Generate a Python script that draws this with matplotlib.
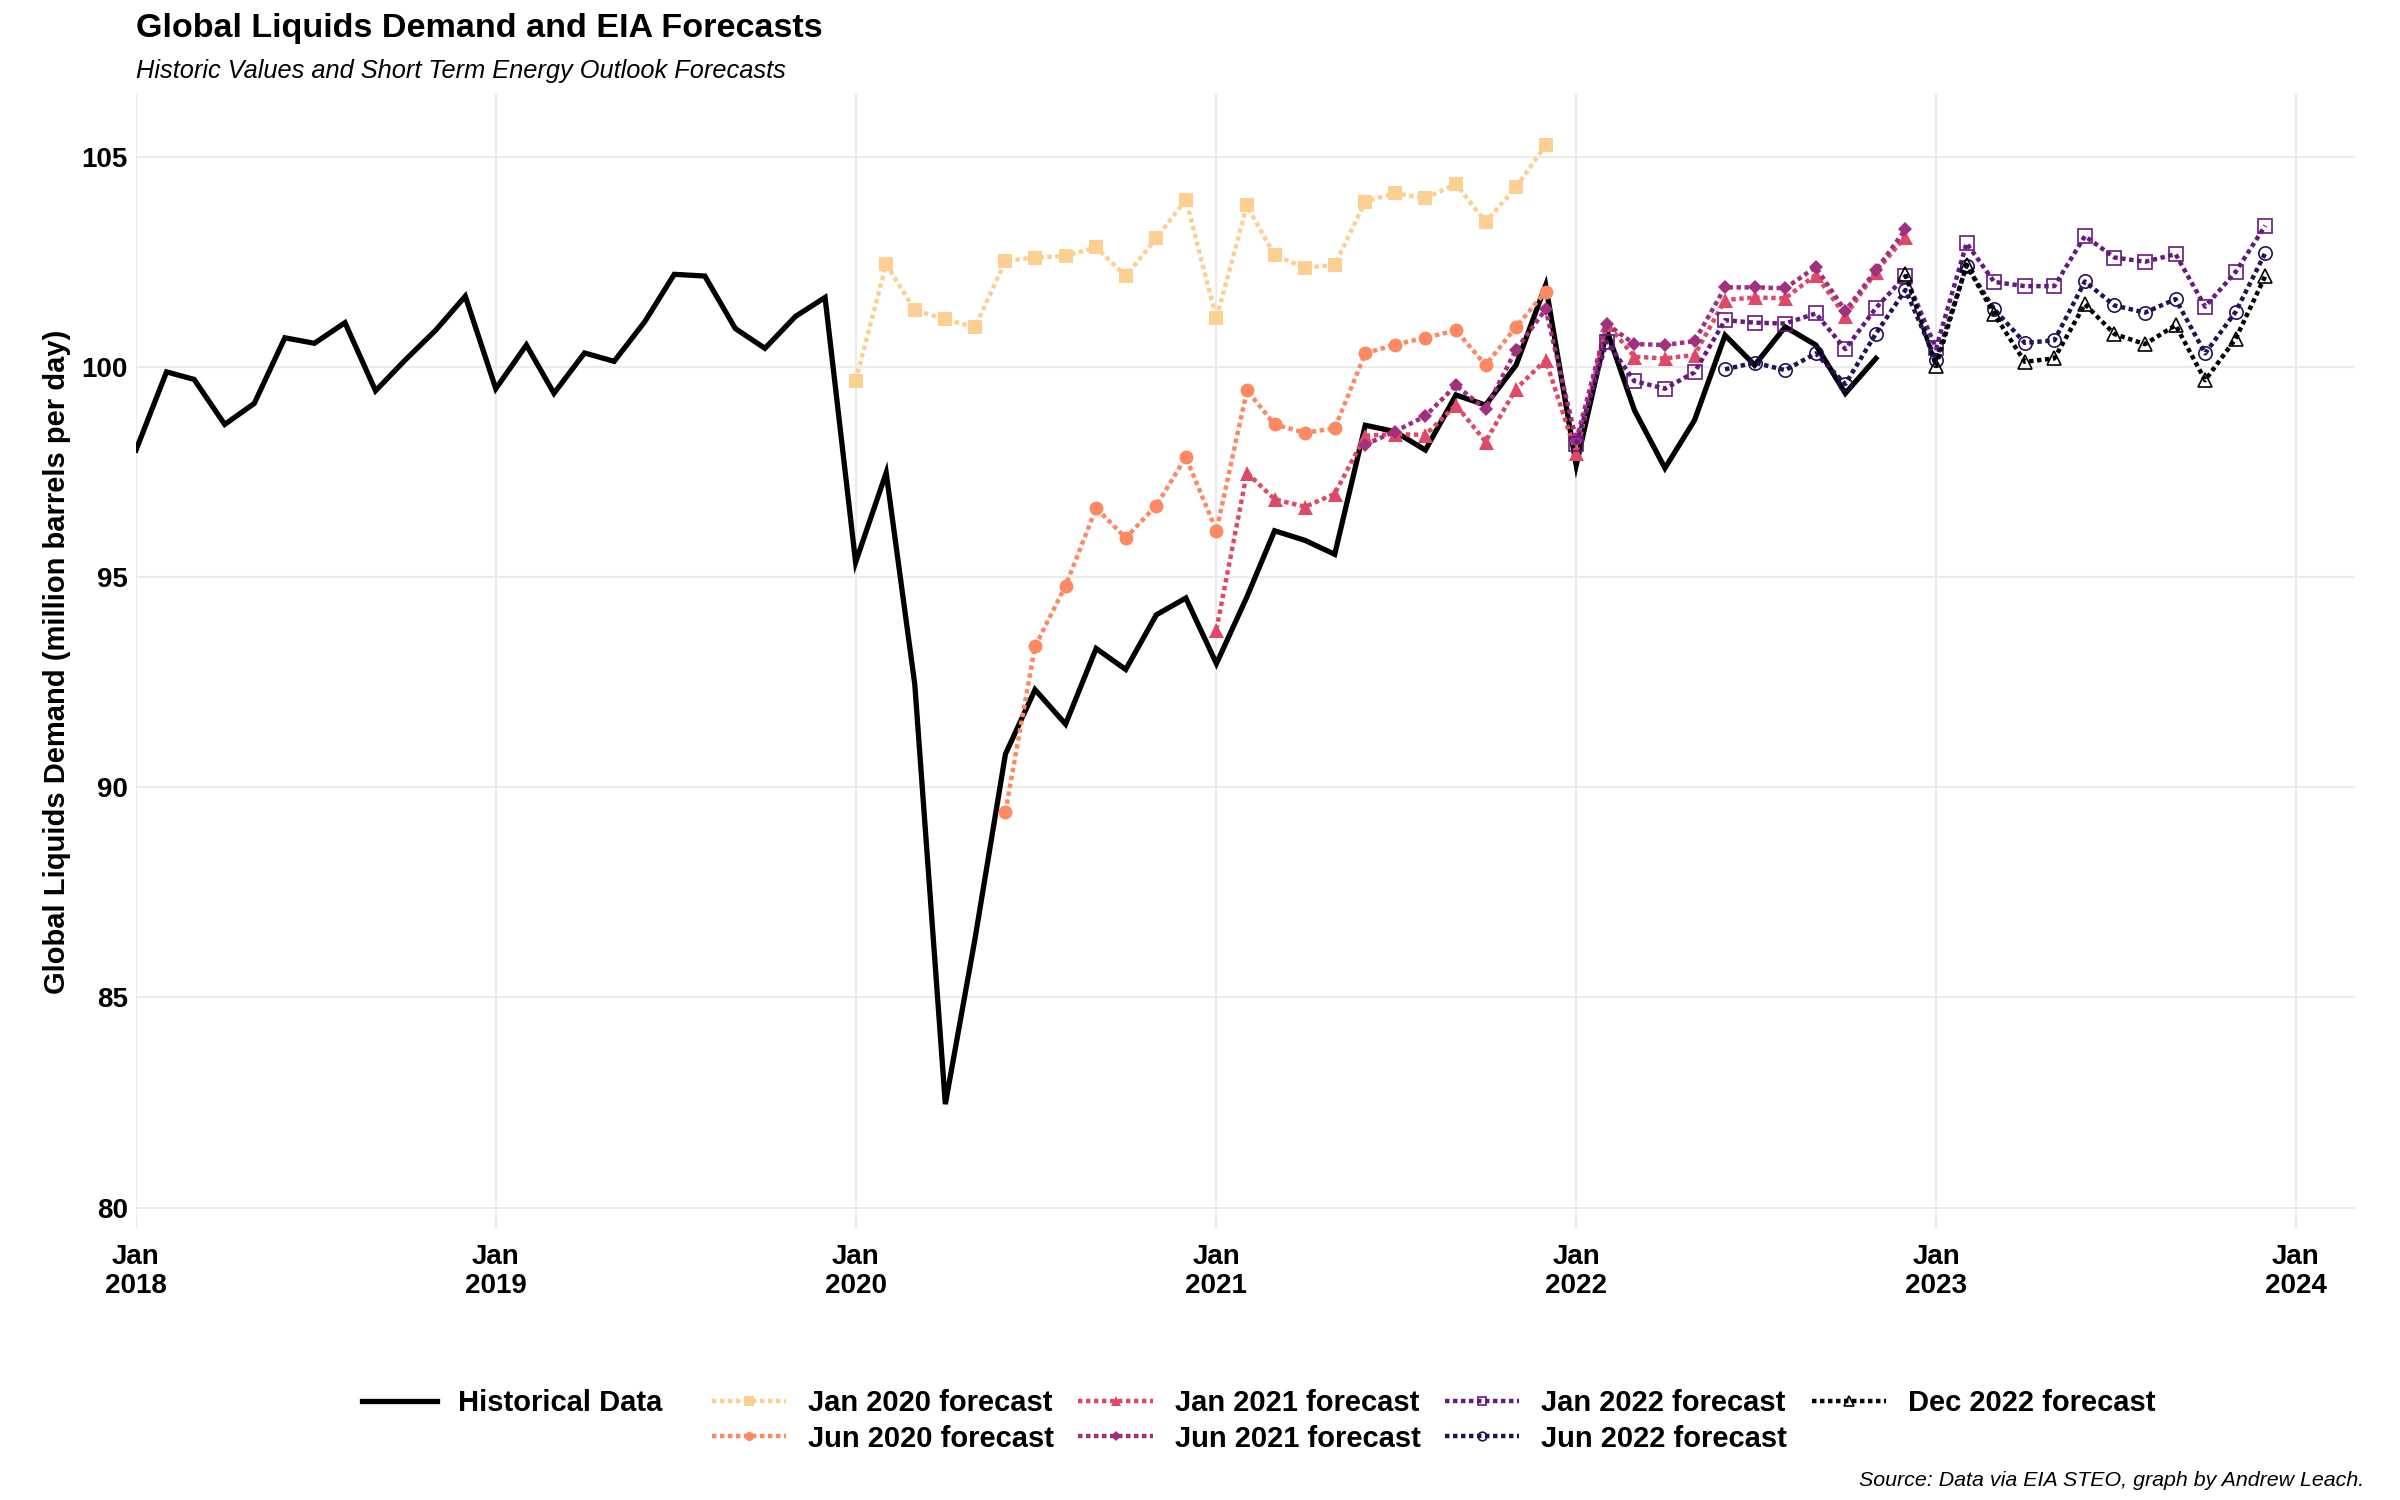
import numpy as np
import pandas as pd
import matplotlib.pyplot as plt
import matplotlib.dates as mdates
from matplotlib.lines import Line2D

plt.rcParams['font.family'] = ['Liberation Sans', 'DejaVu Sans']

# ---- data (million barrels per day), monthly ----
hist_start = '2018-01-01'
hist_values = [
    98.02, 99.88, 99.70, 98.63, 99.13, 100.69, 100.56, 101.05, 99.43, 100.16, 100.87, 101.68,
    99.48, 100.52, 99.37, 100.33, 100.13, 101.07, 102.20, 102.16, 100.91, 100.44, 101.20, 101.65,
    95.35, 97.48, 92.45, 82.46, 86.38, 90.79, 92.32, 91.50, 93.30, 92.80, 94.10, 94.50,
    92.94, 94.53, 96.10, 95.87, 95.54, 98.61, 98.46, 98.02, 99.33, 99.09, 100.04, 101.94,
    97.66, 100.87, 98.97, 97.59, 98.73, 100.75, 100.04, 100.95, 100.52, 99.37, 100.20,
]

forecast_labels = ['Jan 2020 forecast', 'Jun 2020 forecast', 'Jan 2021 forecast',
                   'Jun 2021 forecast', 'Jan 2022 forecast', 'Jun 2022 forecast',
                   'Dec 2022 forecast']
forecast_starts = ['2020-01-01', '2020-06-01', '2021-01-01', '2021-06-01',
                   '2022-01-01', '2022-06-01', '2022-12-01']

jan2020 = [99.67, 102.44, 101.35, 101.13, 100.94, 102.52, 102.60, 102.64, 102.84, 102.16, 103.06, 103.98,
           101.15, 103.84, 102.65, 102.36, 102.42, 103.93, 104.13, 104.01, 104.35, 103.45, 104.27, 105.28]
jun2020 = [89.42, 93.35, 94.79, 96.64, 95.93, 96.70, 97.85,
           96.10, 99.44, 98.63, 98.43, 98.54, 100.32, 100.53, 100.69, 100.87, 100.04, 100.95, 101.79]
jan2021 = [93.75, 97.48, 96.85, 96.67, 96.98, 98.36, 98.40, 98.38, 99.09, 98.22, 99.48, 100.16,
           97.94, 101.03, 100.24, 100.20, 100.28, 101.59, 101.65, 101.63, 102.19, 101.21, 102.26, 103.10]
jun2021 = [98.15, 98.46, 98.83, 99.56, 98.99, 100.41, 101.37,
           98.25, 101.02, 100.54, 100.52, 100.61, 101.89, 101.89, 101.87, 102.37, 101.33, 102.30, 103.27]
jan2022 = [98.17, 100.60, 99.66, 99.48, 99.87, 101.11, 101.05, 101.03, 101.27, 100.42, 101.40, 102.16,
           100.44, 102.94, 102.02, 101.92, 101.92, 103.11, 102.60, 102.50, 102.68, 101.43, 102.26, 103.36]
jun2022 = [99.94, 100.10, 99.92, 100.32, 99.59, 100.79, 101.83,
           100.16, 102.40, 101.37, 100.57, 100.63, 102.03, 101.46, 101.29, 101.61, 100.32, 101.31, 102.71]
dec2022 = [102.20,
           100.02, 102.43, 101.25, 100.12, 100.20, 101.49, 100.78, 100.54, 100.99, 99.68, 100.67, 102.16]

forecast_values = [jan2020, jun2020, jan2021, jun2021, jan2022, jun2022, dec2022]

year_ticks = ['2018', '2019', '2020', '2021', '2022', '2023', '2024']
y_ticks = [80, 85, 90, 95, 100, 105]

# ---- styles ----
colors = plt.cm.magma([0.9, 0.75, 0.6, 0.45, 0.3, 0.15, 0.0])
markers = ['s', 'o', '^', 'D', 's', 'o', '^']
filled = [True, True, True, True, False, False, False]
msizes = [5.0, 5.0, 5.4, 3.7, 4.8, 4.8, 5.2]
dotted = (0, (1, 0.8))

fig = plt.figure(figsize=(12, 7.5), dpi=200)
ax = fig.add_axes([136 / 2400, 1 - 1229 / 1500, (2355 - 136) / 2400, (1229 - 94) / 1500])

hist_dates = pd.date_range(hist_start, periods=len(hist_values), freq='MS')
ax.plot(hist_dates, hist_values, color='black', lw=1.9, solid_joinstyle='miter',
        label='Historical Data', zorder=3)

for lab, start, vals, col, mk, fl, ms in zip(forecast_labels, forecast_starts, forecast_values,
                                            colors, markers, filled, msizes):
    d = pd.date_range(start, periods=len(vals), freq='MS')
    ax.plot(d, vals, color=col, lw=1.6, linestyle=dotted, dash_capstyle='butt',
            marker=mk, markersize=ms,
            markerfacecolor=col if fl else 'none',
            markeredgecolor=col, markeredgewidth=0.0 if fl else 0.6,
            label=lab, zorder=4)

ax.set_xlim(pd.Timestamp('2018-01-01'), pd.Timestamp('2024-03-01'))
ax.set_ylim(79.49, 106.49)
ax.set_xticks([pd.Timestamp(y + '-01-01') for y in year_ticks])
ax.set_xticklabels(['Jan\n' + y for y in year_ticks], fontsize=10, fontweight='bold',
                   linespacing=1.12)
ax.set_yticks(y_ticks)
ax.set_yticklabels([str(v) for v in y_ticks], fontsize=10, fontweight='bold')
ax.tick_params(axis='both', length=0)
ax.tick_params(axis='x', pad=5.5)
ax.tick_params(axis='y', pad=3)
ax.grid(True, color='#EBEBEB', lw=0.75)
ax.set_axisbelow(True)
for s in ax.spines.values():
    s.set_visible(False)

# titles
fig.text(136 / 2400, 1 - 28 / 1500, 'Global Liquids Demand and EIA Forecasts',
         fontsize=12.3, fontweight='bold', ha='left', va='center')
fig.text(136 / 2400, 1 - 71 / 1500, 'Historic Values and Short Term Energy Outlook Forecasts',
         fontsize=9.15, fontstyle='italic', ha='left', va='center')
fig.text(57 / 2400, 1 - (94 + 1229) / 2 / 1500, 'Global Liquids Demand (million barrels per day)',
         fontsize=10.5, fontweight='bold', rotation=90, ha='center', va='center')
fig.text(2364 / 2400, 1 - 1481 / 1500, 'Source: Data via EIA STEO, graph by Andrew Leach.',
         fontsize=7.7, fontstyle='italic', ha='right', va='center')

# legend: blank slot after historical so forecasts pair up by column
handles, labels = ax.get_legend_handles_labels()
blank = Line2D([], [], linestyle='none')
handles = [handles[0], blank] + handles[1:]
labels = [labels[0] + '   ', ''] + labels[1:]
fig.legend(handles, labels, loc='center', bbox_to_anchor=(0.5245, 1 - 1421 / 1500),
           ncol=5, frameon=False, prop={'weight': 'bold', 'size': 10.5},
           handlelength=2.55, handletextpad=0.75, columnspacing=0.84, labelspacing=0.25,
           markerscale=0.65)

fig.savefig('out.png', dpi=200)
